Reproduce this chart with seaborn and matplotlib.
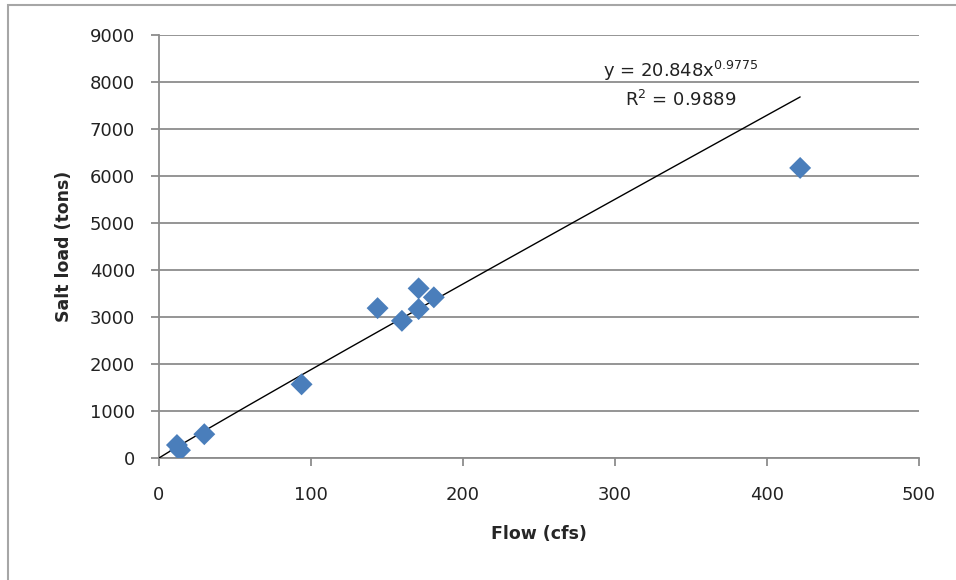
import numpy as np
import pandas as pd
import matplotlib.pyplot as plt
import seaborn as sns
from matplotlib.patches import Rectangle

# Flow vs salt load readings
flow_cfs = [12, 14, 30, 94, 144, 160, 171, 171, 181, 422]
salt_tons = [280, 170, 510, 1570, 3190, 2920, 3170, 3610, 3420, 6170]

# power trendline reported on the chart
coef = 20.848
expo = 0.9775
r_squared = 0.9889

x_ticks = [0, 100, 200, 300, 400, 500]
y_ticks = [0, 1000, 2000, 3000, 4000, 5000, 6000, 7000, 8000, 9000]

df = pd.DataFrame({'Flow': flow_cfs, 'Salt': salt_tons})

sns.set_style("white")
plt.rcParams['font.family'] = ['DejaVu Sans']

grey = '#8c8c8c'

fig = plt.figure(figsize=(9.56, 5.8), dpi=100)
ax = fig.add_axes([0.166, 0.21, 0.795, 0.73])

# trendline from the fitted equation
trend_x = np.linspace(0.5, max(flow_cfs), 300)
trend = pd.DataFrame({'Flow': trend_x, 'Salt': coef * trend_x ** expo})
sns.lineplot(data=trend, x='Flow', y='Salt', color='black', linewidth=1.0, ax=ax, zorder=3)

sns.scatterplot(data=df, x='Flow', y='Salt', marker='D', s=125, color='#4a7ebb',
                edgecolor='none', ax=ax, zorder=4)

ax.set_xlim(0, 500)
ax.set_ylim(0, 9000)
ax.set_xticks(x_ticks)
ax.set_yticks(y_ticks)
ax.yaxis.grid(True, color=grey, linewidth=1.3)
ax.xaxis.grid(False)
ax.set_axisbelow(True)

for side in ['top', 'right']:
    ax.spines[side].set_visible(False)
for side in ['left', 'bottom']:
    ax.spines[side].set_color(grey)
    ax.spines[side].set_linewidth(1.3)

ax.tick_params(axis='both', direction='out', length=6, width=1.3, color=grey,
               labelsize=13, labelcolor='#222222', left=True, bottom=True)
ax.tick_params(axis='y', pad=11)
ax.tick_params(axis='x', pad=14)

ax.set_xlabel('Flow (cfs)', fontsize=12.5, fontweight='bold', labelpad=15)
ax.set_ylabel('Salt load (tons)', fontsize=12.5, fontweight='bold', labelpad=12)

ax.text(0.687, 0.915, r'y = 20.848x$^{\mathregular{0.9775}}$', transform=ax.transAxes,
        ha='center', va='center', fontsize=13, color='#222222')
ax.text(0.687, 0.846, r'R$^{\mathregular{2}}$ = ' + f'{r_squared}', transform=ax.transAxes,
        ha='center', va='center', fontsize=13, color='#222222')

# chart-area border
fig.patches.append(Rectangle((8 / 956, -0.01), 1.0, 1 - 5 / 580 + 0.01,
                             transform=fig.transFigure, fill=False,
                             edgecolor='#a6a6a6', linewidth=1.5))

fig.savefig('out.png', dpi=100)
